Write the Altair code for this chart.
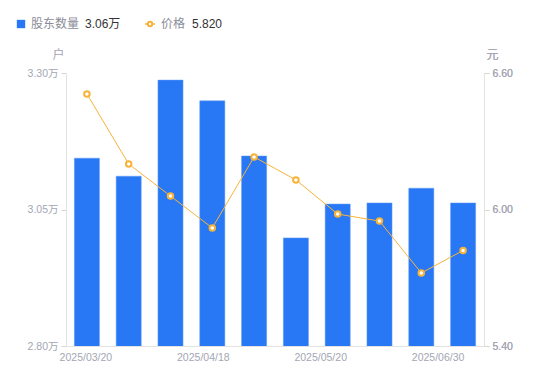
import altair as alt
import pandas as pd

dates = ["2025/03/20", "2025/03/31", "2025/04/10", "2025/04/18", "2025/04/30",
         "2025/05/09", "2025/05/20", "2025/05/30", "2025/06/20", "2025/06/30"]
holders = [3.144, 3.111, 3.287, 3.249, 3.148, 2.998, 3.060, 3.062, 3.089, 3.062]
prices = [6.508, 6.200, 6.059, 5.919, 6.231, 6.130, 5.980, 5.949, 5.721, 5.820]
shown_labels = ["2025/03/20", "2025/04/18", "2025/05/20", "2025/06/30"]
left_ticks = [2.80, 3.05, 3.30]
right_ticks = [5.40, 6.00, 6.60]

df = pd.DataFrame({"date": dates, "holders": holders, "price": prices})

FONT = "Liberation Sans, Noto Sans CJK SC, sans-serif"
LABEL = "#a3a6b4"
BLUE = "#2878f5"
ORANGE = "#f8b339"

label_test = " || ".join(f"datum.value == '{d}'" for d in shown_labels)

x_enc = alt.X(
    "date:N", sort=dates, title=None,
    scale=alt.Scale(paddingInner=0.4, paddingOuter=0.2),
    axis=alt.Axis(
        labelExpr=f"({label_test}) ? datum.value : ''",
        labelColor=LABEL, labelFontSize=10.5, labelFont=FONT, labelAngle=0,
        domainColor="#e3e3e3", ticks=False, labelPadding=6,
        labelOffset={"condition": [
            {"test": "datum.value == '2025/03/20'", "value": -1},
            {"test": "datum.value == '2025/04/18'", "value": -9},
            {"test": "datum.value == '2025/05/20'", "value": -17},
            {"test": "datum.value == '2025/06/30'", "value": -25},
        ], "value": 0},
    ),
)

bars = alt.Chart(df).mark_bar(color=BLUE, stroke="#5f9af7", strokeWidth=0.5, clip=True).encode(
    x=x_enc,
    y=alt.Y("holders:Q", scale=alt.Scale(domain=[2.80, 3.30], nice=False, zero=False),
            axis=alt.Axis(values=left_ticks, labelExpr="format(datum.value, '.2f') + '万'",
                          title="户", titleAngle=0, titleX=-8, titleY=-12,
                          titleColor=LABEL, titleFontWeight="normal", titleFontSize=12, titleFont=FONT,
                          labelColor=LABEL, labelFontSize=10.5, labelFont=FONT,
                          domainColor="#e3e3e3", tickColor="#d6d6d6", tickSize=5, grid=False,
                          labelPadding=3)),
)

line_base = alt.Chart(df).encode(
    x=alt.X("date:N", sort=dates),
    y=alt.Y("price:Q", scale=alt.Scale(domain=[5.40, 6.60], nice=False, zero=False),
            axis=alt.Axis(values=right_ticks, format=".2f", orient="right",
                          title="元", titleAngle=0, titleX=8, titleY=-12,
                          titleColor=LABEL, titleFontWeight="normal", titleFontSize=12, titleFont=FONT,
                          labelColor=LABEL, labelFontSize=10.5, labelFont=FONT,
                          domainColor="#e3e3e3", tickColor="#d6d6d6", tickSize=5, grid=False,
                          labelPadding=3)),
)
line = line_base.mark_line(color=ORANGE, strokeWidth=1)
pts = line_base.mark_point(filled=True, fill="white", stroke=ORANGE, strokeWidth=2, size=30, opacity=1)

# legend
leg_df = pd.DataFrame({"k": [0]})
leg_sq = alt.Chart(leg_df).mark_square(color=BLUE, size=70, opacity=1).encode(
    x=alt.value(-45), y=alt.value(-49))
leg_t1 = alt.Chart(leg_df).mark_text(align="left", baseline="middle", font=FONT, fontSize=12, color="#8a8d99").encode(
    x=alt.value(-35), y=alt.value(-49), text=alt.value("股东数量"))
leg_v1 = alt.Chart(leg_df).mark_text(align="left", baseline="middle", font=FONT, fontSize=12, color="#333333").encode(
    x=alt.value(19), y=alt.value(-49), text=alt.value(f"{holders[-1]:.2f}万"))
leg_ln = alt.Chart(leg_df).mark_rule(color=ORANGE, strokeWidth=1.5).encode(
    x=alt.value(79), x2=alt.value(89), y=alt.value(-49))
leg_pt = alt.Chart(leg_df).mark_point(filled=True, fill="white", stroke=ORANGE, strokeWidth=2, size=20, opacity=1).encode(
    x=alt.value(84), y=alt.value(-49))
leg_t2 = alt.Chart(leg_df).mark_text(align="left", baseline="middle", font=FONT, fontSize=12, color="#8a8d99").encode(
    x=alt.value(95), y=alt.value(-49), text=alt.value("价格"))
leg_v2 = alt.Chart(leg_df).mark_text(align="left", baseline="middle", font=FONT, fontSize=12, color="#333333").encode(
    x=alt.value(126), y=alt.value(-49), text=alt.value(f"{prices[-1]:.3f}"))

chart = alt.layer(
    bars, line, pts, leg_sq, leg_t1, leg_v1, leg_ln, leg_pt, leg_t2, leg_v2
).resolve_scale(y="independent").properties(
    width=418, height=273,
    autosize=alt.AutoSizeParams(type="none"),
    padding={"left": 58, "top": 65, "right": 50, "bottom": 30},
).configure_view(stroke=None)

chart.save("out.html", embed_options={"renderer": "svg", "actions": False})
